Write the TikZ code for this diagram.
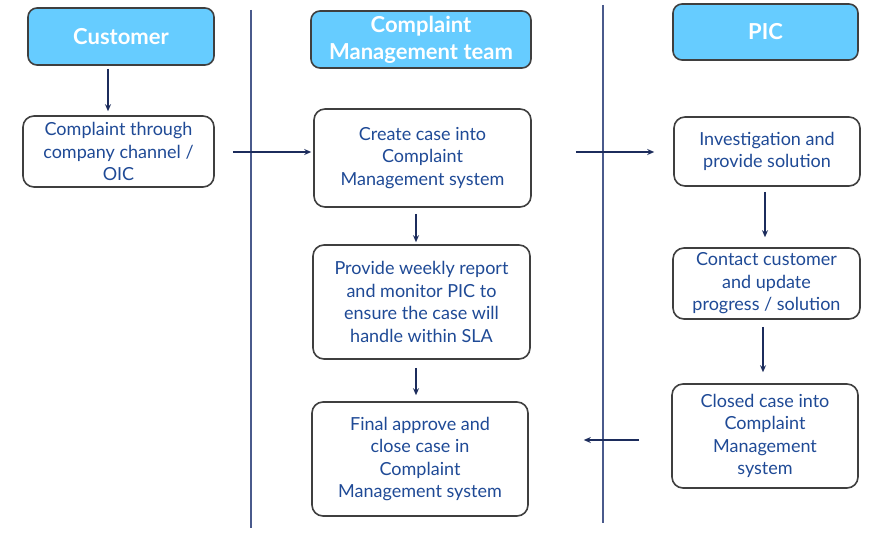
\documentclass[tikz,border=0pt]{standalone}
\usepackage{fontspec}
\setmainfont{Lato}
\usepackage{tikz}
\usetikzlibrary{arrows.meta}

\definecolor{headblue}{HTML}{66CCFF}
\definecolor{boxgray}{HTML}{3F3F3F}
\definecolor{textblue}{HTML}{1F4A96}
\definecolor{arrownavy}{HTML}{1C2C5C}
\definecolor{lanenavy}{HTML}{4A5A8C}

\tikzset{
    header/.style={draw=boxgray, fill=headblue, line width=1.6pt, rounded corners=9pt,
        text=white, font=\fontsize{22}{27}\selectfont\bfseries, align=center, inner sep=0pt},
    stepbox/.style={draw=boxgray, fill=white, line width=1.6pt, rounded corners=11pt,
        text=textblue, font=\fontsize{18}{22.5}\selectfont, align=center, inner sep=0pt},
    flow/.style={draw=arrownavy, line width=1.1pt, -{Stealth[length=7pt, width=6pt]}},
    lane/.style={draw=lanenavy, line width=1.3pt}
}

\begin{document}
\begin{tikzpicture}[x=1pt, y=-1pt]
    \useasboundingbox (0, 0) rectangle (890, 535);

    % draw lane lines
    \draw[lane] (251, 10) -- (251, 528);
    \draw[lane] (603, 5) -- (603, 523);

    % draw headers
    \node[header, minimum width=186pt, minimum height=57pt] (customer) at (121, 36.5) {Customer};
    \node[header, minimum width=220pt, minimum height=57pt] (cmteam) at (421, 39.5) {Complaint\\Management team};
    \node[header, minimum width=185pt, minimum height=56pt] (pic) at (765.5, 32) {PIC};

    % draw steps
    \node[stepbox, minimum width=191pt, minimum height=71pt] (complaint) at (118.5, 151.5) {Complaint through\\company channel /\\OIC};
    \node[stepbox, minimum width=217pt, minimum height=98pt] (create) at (422.5, 158) {Create case into\\Complaint\\Management system};
    \node[stepbox, minimum width=217pt, minimum height=114pt] (weekly) at (421.5, 302) {Provide weekly report\\and monitor PIC to\\ensure the case will\\handle within SLA};
    \node[stepbox, minimum width=216pt, minimum height=114pt] (final) at (420, 459) {Final approve and\\close case in\\Complaint\\Management system};
    \node[stepbox, minimum width=186pt, minimum height=69pt] (investigate) at (767, 151.5) {Investigation and\\provide solution};
    \node[stepbox, minimum width=187pt, minimum height=71pt] (contact) at (766.5, 283.5) {Contact customer\\and update\\progress / solution};
    \node[stepbox, minimum width=186pt, minimum height=104pt] (closed) at (765, 436) {Closed case into\\Complaint\\Management\\system};

    % draw arrows
    \draw[flow] ([xshift=-13pt, yshift=-3pt]customer.south) -- ([xshift=-10.5pt, yshift=4pt]complaint.north);
    \draw[flow] ([xshift=18pt, yshift=-0.5pt]complaint.east) -- ([yshift=6pt, xshift=-2pt]create.west);
    \draw[flow] ([xshift=-6.5pt, yshift=-6pt]create.south) -- ([xshift=-5.5pt, yshift=2pt]weekly.north);
    \draw[flow] ([xshift=-5.5pt, yshift=-8pt]weekly.south) -- ([xshift=-4pt, yshift=6pt]final.north);
    \draw[flow] ([xshift=44pt, yshift=6pt]create.east) -- ([xshift=-19pt, yshift=-0.5pt]investigate.west);
    \draw[flow] ([xshift=-2pt, yshift=-5pt]investigate.south) -- ([xshift=-1.5pt, yshift=10pt]contact.north);
    \draw[flow] ([xshift=-3.5pt, yshift=-7pt]contact.south) -- ([xshift=-2pt, yshift=11pt]closed.north);
    \draw[flow] ([xshift=-32pt, yshift=-4pt]closed.west) -- ([xshift=55pt, yshift=19pt]final.east);
\end{tikzpicture}
\end{document}
